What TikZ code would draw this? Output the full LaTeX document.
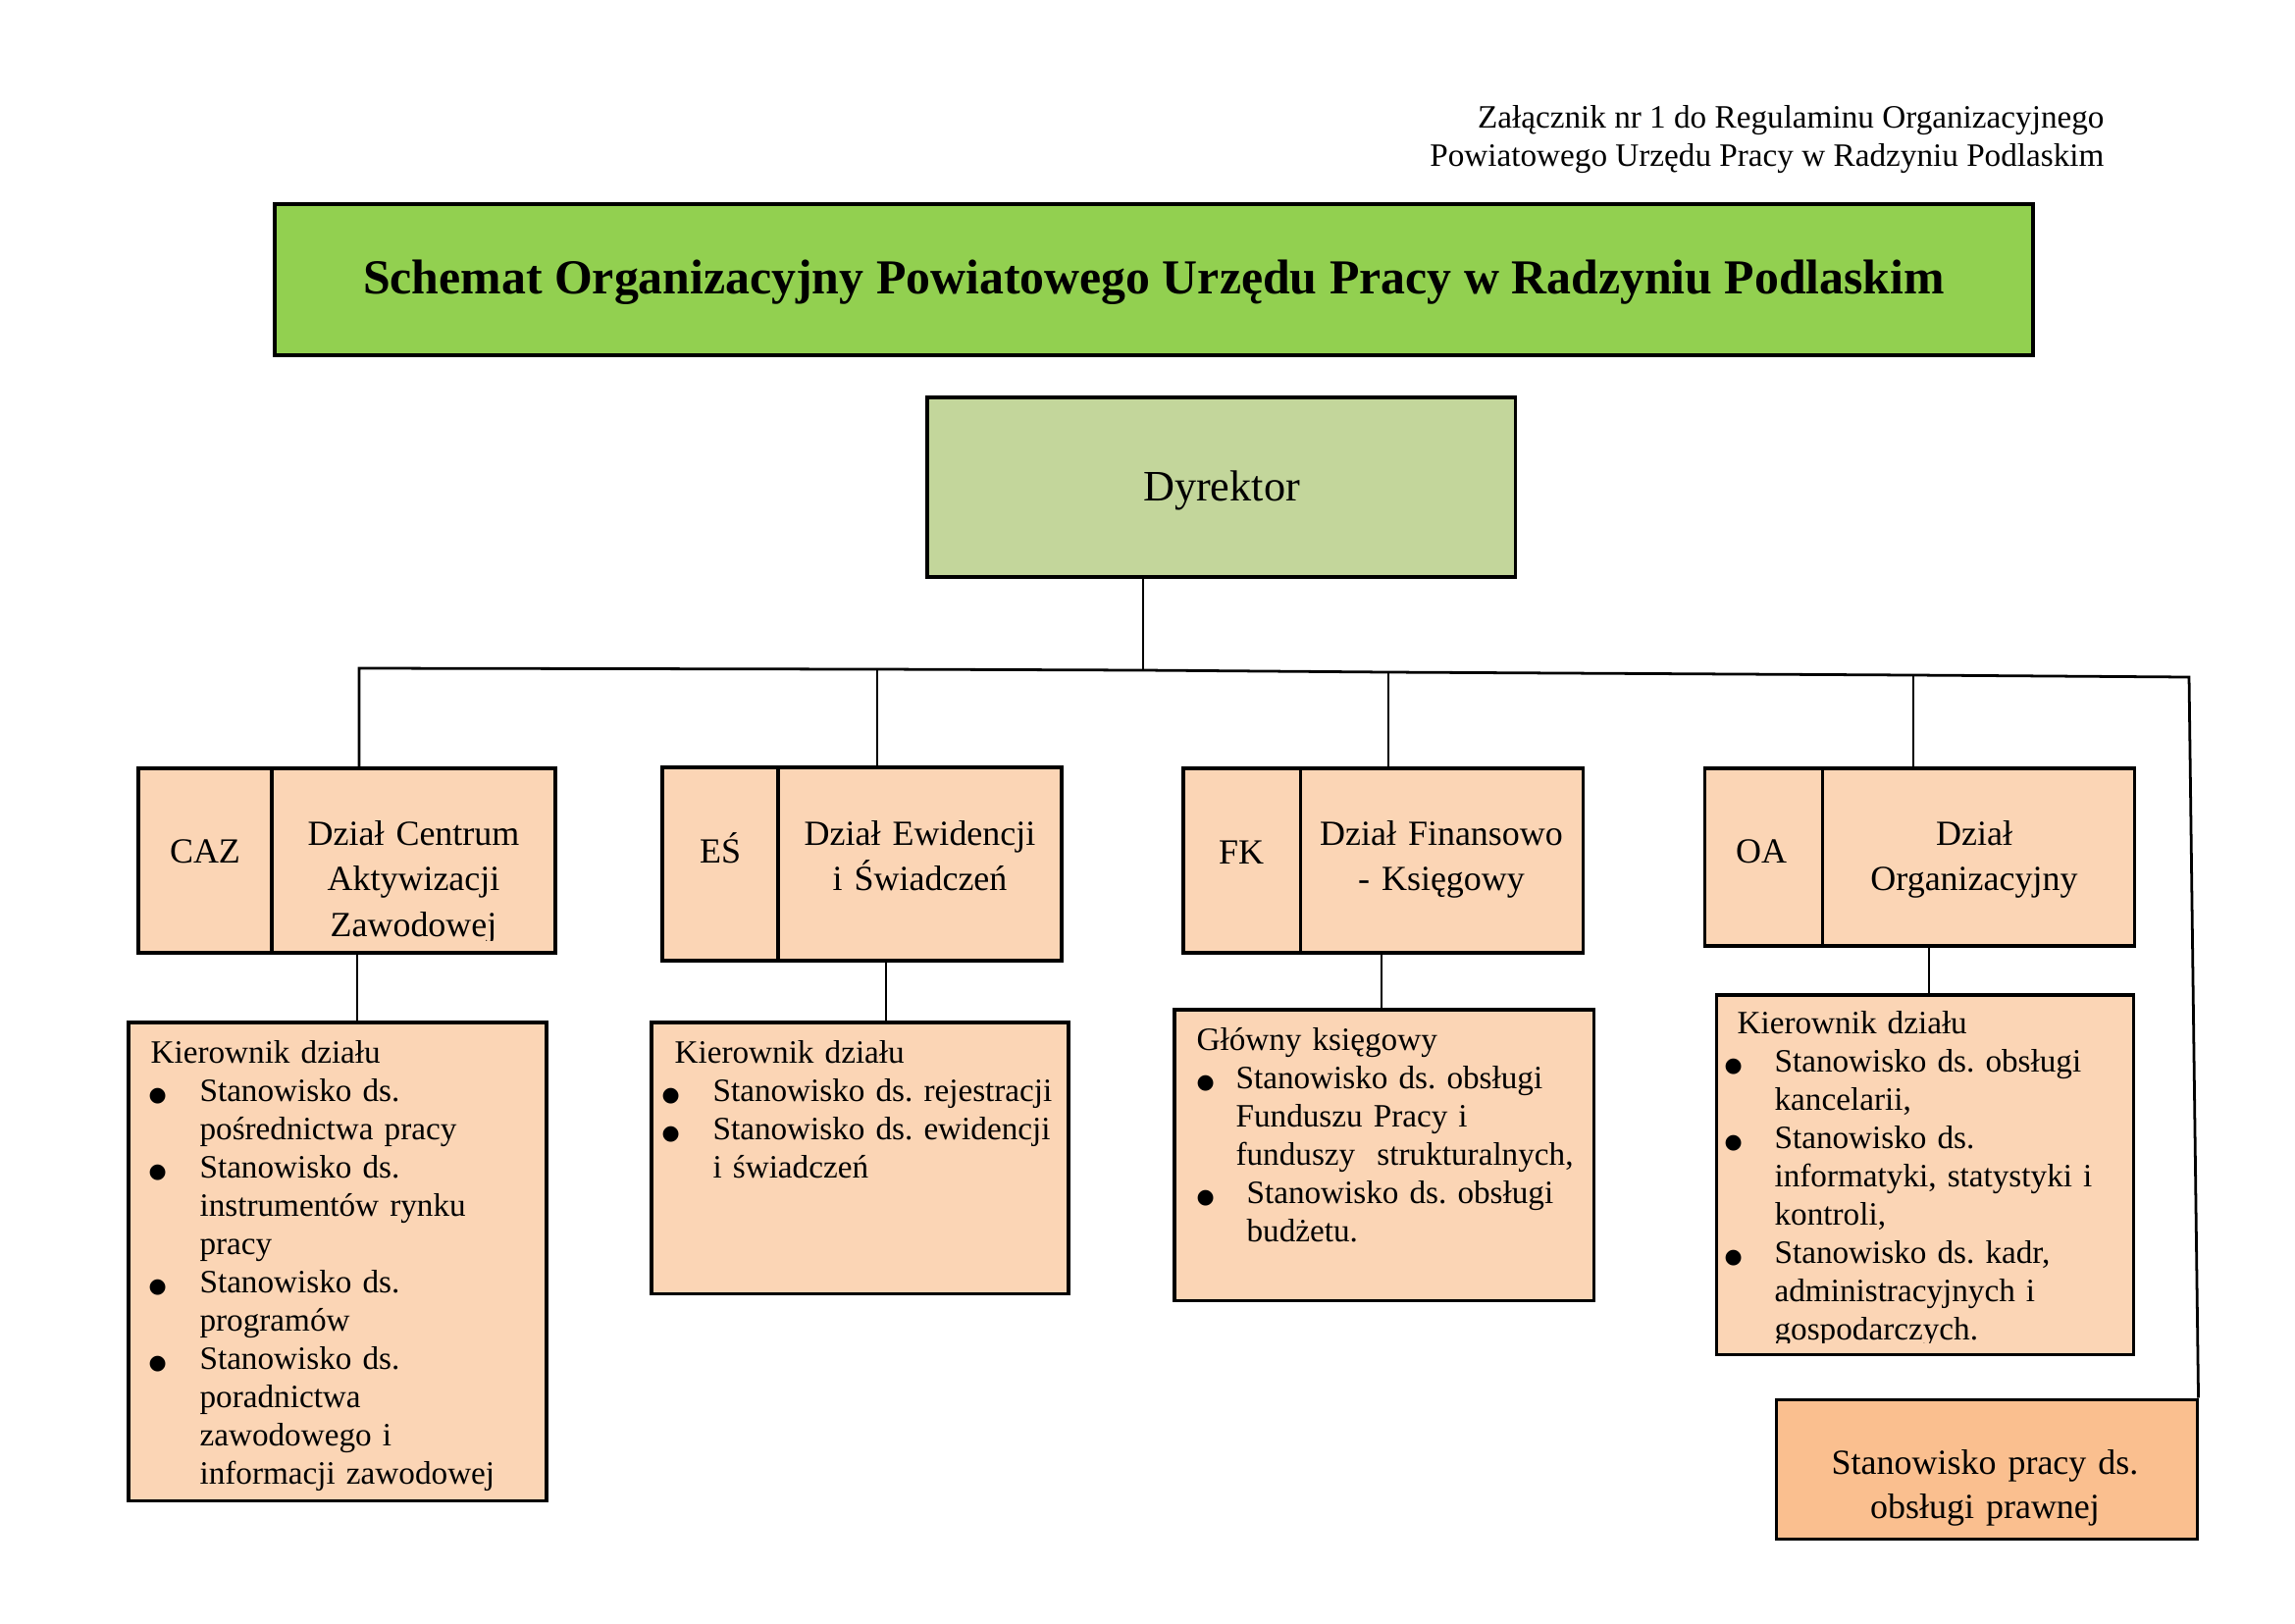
\documentclass[tikz,border=0pt]{standalone}
\usepackage{fontspec}
\setmainfont{Liberation Serif}
\newfontfamily\dejavu{DejaVu Sans}
\usetikzlibrary{fit}
\frenchspacing
\newdimen\pxu \pxu=0.127mm
\newcommand\bulglyph{{\dejavu\fontsize{7.5pt}{8pt}\selectfont ●}}
\newcommand\bul[2]{\makebox[0pt][l]{\hspace*{#1\pxu}\bulglyph}\hspace*{#2\pxu}}
\newcommand\ind[1]{\hspace*{#1\pxu}}
\definecolor{titlegreen}{RGB}{146,208,80}
\definecolor{dyrgreen}{RGB}{195,214,155}
\definecolor{peach}{RGB}{251,213,181}
\definecolor{orangebox}{RGB}{250,191,143}
\begin{document}
\begin{tikzpicture}[x=0.127mm,y=-0.127mm,
  box/.style={draw=black, line width=1.1pt, inner sep=0pt, fill=peach},
  titlebox/.style={draw=black, line width=1.5pt, inner sep=0pt, fill=titlegreen},
  conn/.style={draw=black, line width=1pt},
  annex/.style={inner sep=0pt, font=\fontsize{12pt}{14pt}\selectfont},
  deptname/.style={inner sep=0pt, font=\fontsize{13pt}{16.8pt}\selectfont},
  listtext/.style={inner sep=0pt, text width=52mm, align=left, font=\fontsize{12pt}{14.1pt}\selectfont}]
\useasboundingbox (0,0) rectangle (2339,1654);

% header
\node[annex, anchor=base east] (ann1) at (2145,130) {Załącznik nr 1 do Regulaminu Organizacyjnego};
\node[annex, anchor=base east] (ann2) at (2145,169) {Powiatowego Urzędu Pracy w Radzyniu Podlaskim};

% title
\node[titlebox, fit={(280,208) (2072,362)}] (title) {};
\node[inner sep=0pt, anchor=base, font=\bfseries\fontsize{18pt}{21pt}\selectfont] (titleT) at (1176,299) {Schemat Organizacyjny Powiatowego Urzędu Pracy w Radzyniu Podlaskim};

% director
\node[box, fill=dyrgreen, fit={(945,405) (1544,588)}] (dyr) {};
\node[inner sep=0pt, anchor=base, font=\fontsize{16pt}{19pt}\selectfont] (dyrT) at (1245,510) {Dyrektor};

% department boxes
\node[box, fit={(141,783) (277,971)}] (cazC) {};
\node[box, fit={(277,783) (566,971)}] (cazN) {};
\node[box, fit={(675,782) (793,979)}] (esC) {};
\node[box, fit={(793,782) (1082,979)}] (esN) {};
\node[box, fit={(1206,783) (1325,971)}] (fkC) {};
\node[box, fit={(1325,783) (1613,971)}] (fkN) {};
\node[box, fit={(1737,783) (1857,964)}] (oaC) {};
\node[box, fit={(1857,783) (2175,964)}] (oaN) {};

\node[deptname, anchor=base] (cazCT) at (209,879) {CAZ};
\node[deptname, anchor=base] (esCT) at (734,879) {EŚ};
\node[deptname, anchor=base] (fkCT) at (1265,880) {FK};
\node[deptname, anchor=base] (oaCT) at (1795,879) {OA};

\begin{scope}
\clip (277,783) rectangle (566,958);
\node[deptname, anchor=base, text width=35mm, align=center] (cazNT) at (421.5,861) {Dział Centrum\\Aktywizacji\\Zawodowej};
\end{scope}
\node[deptname, anchor=base, text width=35mm, align=center] (esNT) at (937.5,861) {Dział Ewidencji\\i Świadczeń};
\node[deptname, anchor=base, text width=35mm, align=center] (fkNT) at (1469,861) {Dział Finansowo\\- Księgowy};
\node[deptname, anchor=base, text width=38mm, align=center] (oaNT) at (2012,861) {Dział\\Organizacyjny};

% list boxes
\node[box, fit={(131,1042) (557,1529)}] (cazL) {};
\node[box, fit={(664,1042) (1089,1318)}] (esL) {};
\node[box, fit={(1197,1029) (1624,1325)}] (fkL) {};
\node[box, fit={(1749,1014) (2174,1380)}] (oaL) {};
\node[box, fill=orangebox, fit={(1810,1426) (2239,1568)}] (pr) {};

\begin{scope}
\clip (131,1042) rectangle (557,1520);
\node[listtext, anchor=base west] (cazLT) at (153,1083) {Kierownik działu\\
\bul{-2}{50}Stanowisko ds.\\
\ind{50}pośrednictwa pracy\\
\bul{-2}{50}Stanowisko ds.\\
\ind{50}instrumentów rynku\\
\ind{50}pracy\\
\bul{-2}{50}Stanowisko ds.\\
\ind{50}programów\\
\bul{-2}{50}Stanowisko ds.\\
\ind{50}poradnictwa\\
\ind{50}zawodowego i\\
\ind{50}informacji zawodowej};
\end{scope}

\node[listtext, anchor=base west] (esLT) at (687,1083) {Kierownik działu\\
\bul{-13}{39}Stanowisko ds. rejestracji\\
\bul{-13}{39}Stanowisko ds. ewidencji\\
\ind{39}i świadczeń};

\node[listtext, anchor=base west] (fkLT) at (1219,1070) {Główny księgowy\\
\bul{0}{40}Stanowisko ds. obsługi\\
\ind{40}Funduszu Pracy i\\
\ind{40}funduszy\ \ strukturalnych,\\
\bul{0}{51}Stanowisko ds. obsługi\\
\ind{51}budżetu.};

\begin{scope}
\clip (1749,1014) rectangle (2174,1368);
\node[listtext, anchor=base west] (oaLT) at (1770,1053) {Kierownik działu\\
\bul{-13}{38}Stanowisko ds. obsługi\\
\ind{38}kancelarii,\\
\bul{-13}{38}Stanowisko ds.\\
\ind{38}informatyki, statystyki i\\
\ind{38}kontroli,\\
\bul{-13}{38}Stanowisko ds. kadr,\\
\ind{38}administracyjnych i\\
\ind{38}gospodarczych.};
\end{scope}

\begin{scope}
\clip (1810,1426) rectangle (2239,1555);
\node[deptname, anchor=base, text width=52mm, align=center, font=\fontsize{13pt}{16.6pt}\selectfont] (prT) at (2023,1502) {Stanowisko pracy ds.\\obsługi prawnej};
\end{scope}

% connectors
\coordinate (busL) at (366,681);
\coordinate (busE) at (894,682);
\coordinate (busM) at (1165,683);
\coordinate (busF) at (1415,685);
\coordinate (busO) at (1950,688);
\coordinate (busR) at (2231,690);
\draw[conn] (cazN.north -| busL) -- (busL) -- (busE) -- (busM) -- (busF) -- (busO) -- (busR) -- (pr.north east);
\draw[conn] (dyr.south -| busM) -- (busM);
\draw[conn] (busE) -- (esN.north -| busE);
\draw[conn] (busF) -- (fkN.north -| busF);
\draw[conn] (busO) -- (oaN.north -| busO);

\coordinate (xCAZ) at (364,0);
\coordinate (xES) at (903,0);
\coordinate (xFK) at (1408,0);
\coordinate (xOA) at (1966,0);
\draw[conn] (cazN.south -| xCAZ) -- (cazL.north -| xCAZ);
\draw[conn] (esN.south -| xES) -- (esL.north -| xES);
\draw[conn] (fkN.south -| xFK) -- (fkL.north -| xFK);
\draw[conn] (oaN.south -| xOA) -- (oaL.north -| xOA);
\end{tikzpicture}
\end{document}
